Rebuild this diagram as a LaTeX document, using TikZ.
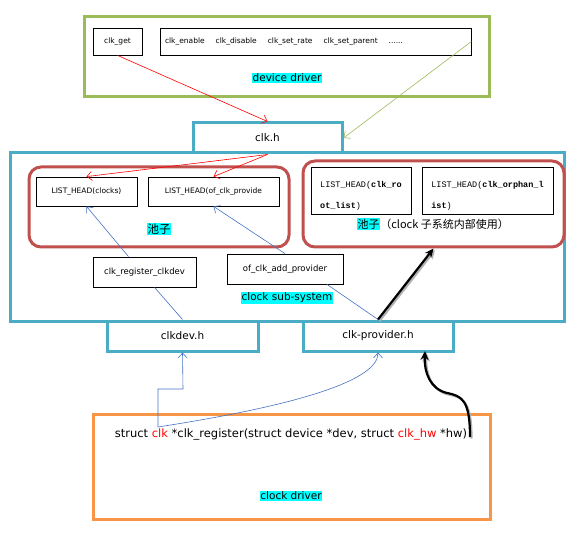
\documentclass[tikz,border=0pt]{standalone}
\usepackage{fontspec}
\setmainfont{DejaVu Sans}
\setmonofont{Liberation Mono}
\newfontfamily\cjk{Noto Sans CJK SC}
\usepackage{tikz}
\usetikzlibrary{arrows.meta}
\usepackage{xcolor}
\definecolor{ColDrv}{RGB}{155,187,89}
\definecolor{ColSys}{RGB}{75,172,198}
\definecolor{ColPool}{RGB}{192,80,77}
\definecolor{ColHw}{RGB}{247,150,70}
\definecolor{ColLink}{RGB}{68,114,196}
\definecolor{ColTag}{RGB}{0,255,255}
\tikzstyle{Frame}=[line width=3pt,inner sep=0pt]
\tikzstyle{Api}=[draw,line width=0.8pt,inner sep=0pt,font=\fontsize{7.5}{9}\selectfont]
\tikzstyle{ApiBig}=[Api,font=\fontsize{8.5}{10}\selectfont]
\tikzstyle{Head}=[draw,line width=0.8pt,inner sep=0pt,font=\ttfamily\fontsize{8.5}{10}\selectfont,align=left]
\tikzstyle{Header}=[draw=ColSys,line width=3pt,fill=white,inner sep=0pt,font=\fontsize{10.5}{12}\selectfont]
\tikzstyle{Pool}=[draw=ColPool,line width=3pt,rounded corners=12pt,inner sep=0pt]
\tikzstyle{Tag}=[fill=ColTag,inner sep=0.6pt,font=\fontsize{10.5}{12}\selectfont]
\tikzstyle{CallEdge}=[red,line width=0.6pt,-{Straight Barb[length=5pt,width=9pt]}]
\tikzstyle{UseEdge}=[ColDrv,line width=0.6pt,-{Straight Barb[length=5pt,width=9pt]}]
\tikzstyle{LinkEdge}=[ColLink,line width=0.6pt,-{Straight Barb[length=5pt,width=9pt]}]
\tikzstyle{BoldEdge}=[line width=2.2pt,-{Stealth[length=9pt,width=8pt]},
preaction={draw=gray!60,line width=2.2pt,transform canvas={shift={(1.5pt,-1.5pt)}}}]

\begin{document}
\begin{tikzpicture}[x=1pt,y=-1pt]
        \useasboundingbox(0,0)rectangle(580,534);
        \node[Frame,draw=ColDrv,minimum width=405pt,minimum height=80pt](drv)at(286.5,57){};
        \node[Api,minimum width=49pt,minimum height=27pt](clkget)at(117.5,41.5){clk\_get};
        \node[Api,minimum width=311pt,minimum height=27pt,text width=301pt,align=left](ops)at(315.5,41.5){clk\_enable\hspace{11pt}clk\_disable\hspace{11pt}clk\_set\_rate\hspace{11pt}clk\_set\_parent\hspace{11pt}......};
        \node[Tag](drvtag)at(287,78){device driver};
        \node[Frame,draw=ColSys,minimum width=554pt,minimum height=168pt](sys)at(287,237){};
        \node[Header,minimum width=149pt,minimum height=30pt](clkh)at(267.5,138){clk.h};
        \node[Pool,minimum width=260pt,minimum height=80pt](poolL)at(159,207){};
        \node[Api,minimum width=101pt,minimum height=29pt](headclocks)at(86.5,191.5){LIST\_HEAD(clocks)};
        \node[Api,minimum width=131pt,minimum height=29pt](headofp)at(213.5,191.5){LIST\_HEAD(of\_clk\_provide};
        \node[Tag,font=\cjk\fontsize{11.5}{13}\selectfont](poolLtag)at(159,229){池子};
        \node[ApiBig,minimum width=103pt,minimum height=30pt](regclkdev)at(144.5,272){clk\_register\_clkdev};
        \node[ApiBig,minimum width=116pt,minimum height=30pt](ofadd)at(285,269){of\_clk\_add\_provider};
        \node[Tag](systag)at(287,298){clock sub-system};
        \node[Pool,minimum width=261pt,minimum height=86pt](poolR)at(433.5,204){};
        \node[Head,minimum width=100pt,minimum height=47pt](headroot)at(361,190.5){\rule{0pt}{16pt}LIST\_HEAD(\textbf{clk\_ro}\\[11pt]\textbf{ot\_list})};
        \node[Head,minimum width=131pt,minimum height=47pt](headorph)at(487.5,190.5){\rule{0pt}{16pt}LIST\_HEAD(\textbf{clk\_orphan\_l}\\[11pt]\textbf{ist})};
        \node[font=\cjk\fontsize{11}{13}\selectfont,inner sep=0pt](poolRtag)at(433,224){{\setlength\fboxsep{0.6pt}\colorbox{ColTag}{池子}}（clock 子系统内部使用）};
        \node[Header,minimum width=151pt,minimum height=30pt](clkdevh)at(182.5,336){clkdev.h};
        \node[Header,minimum width=150pt,minimum height=30pt](provh)at(378,336){clk-provider.h};
        \node[Frame,draw=ColHw,minimum width=397pt,minimum height=105pt](cdrv)at(291.5,466.5){};
        \node[font=\fontsize{11.5}{13}\selectfont,inner sep=0pt](sig)at(291,434){struct {\color{red}clk} *clk\_register(struct device *dev, struct {\color{red}clk\_hw} *hw)};
        \node[Tag](cdrvtag)at(291,496){clock driver};
        \coordinate(clkword)at(158,427);
        \coordinate(bend)at(183,389);
        \coordinate(sigend)at(470,437);
        \coordinate(provtip)at(425,351);
        \draw[CallEdge](clkget.south)--(clkh.north);
        \draw[UseEdge](ops.east)--(clkh.east);
        \draw[CallEdge](clkh.south)--(headclocks.north);
        \draw[CallEdge](clkh.south)--(headofp.north);
        \draw[LinkEdge]([xshift=-16pt]regclkdev.north)--(headclocks.south);
        \draw[LinkEdge,-]([xshift=10pt]regclkdev.south)--(clkdevh.north);
        \draw[LinkEdge](ofadd.north)--(headofp.south);
        \draw[LinkEdge,-]([xshift=42pt]ofadd.south)--(provh.north);
        \draw[BoldEdge](provh.north)--(poolR.south);
        \draw[LinkEdge](clkword)|-(bend)--(clkdevh.south);
        \draw[LinkEdge](clkword)..controls(300,405)and(378,380)..(provh.south);
        \draw[BoldEdge](sigend)..controls(470,400)and(462,396)..(447,393)..controls(430,389)and(424,372)..(provtip);
    \end{tikzpicture}
\end{document}
